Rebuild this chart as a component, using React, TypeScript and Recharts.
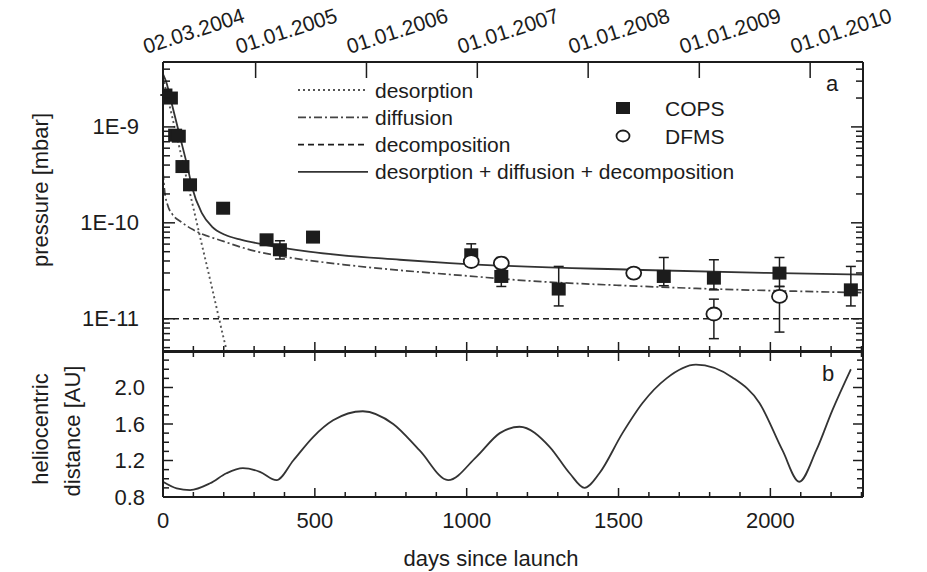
import React from "react";
import {
  ComposedChart,
  LineChart,
  Line,
  Scatter,
  XAxis,
  YAxis,
  ErrorBar,
  Legend,
  Label,
} from "recharts";

const W = 927;
const FONT = "'Liberation Sans', Arial, Helvetica, sans-serif";
const INK = "#1c1c1c";

// ---- model curves, panel a (days since launch -> pressure in mbar) ----
const desorptionDays = [0, 25, 50, 75, 100, 125, 150, 175, 200, 210];
const desorptionP = [3.3e-9, 1.5e-9, 6.9e-10, 3.15e-10, 1.43e-10, 6.5e-11, 3.0e-11, 1.36e-11, 6.2e-12, 4.6e-12];

const diffusionDays = [0, 5, 15, 30, 60, 100, 200, 300, 400, 600, 800, 1000, 1200, 1500, 1800, 2100, 2305];
const diffusionP = [
  3.4e-10, 2.2e-10, 1.54e-10, 1.24e-10, 1.02e-10, 8.45e-11, 6.4e-11, 5.1e-11, 4.43e-11,
  3.65e-11, 3.16e-11, 2.8e-11, 2.49e-11, 2.23e-11, 2.05e-11, 1.93e-11, 1.87e-11,
];

const decompositionDays = [0, 2305];
const decompositionP = [1e-11, 1e-11];

const totalDays = [0, 12, 23, 56, 83, 95, 128, 161, 204, 259, 336, 480, 780, 944, 1546, 1987, 2305];
const totalP = [
  3.56e-9, 2.85e-9, 2.07e-9, 7.9e-10, 3.56e-10, 2.39e-10, 1.26e-10, 9.15e-11, 7.5e-11,
  6.65e-11, 5.9e-11, 5.0e-11, 4.12e-11, 3.8e-11, 3.24e-11, 3.0e-11, 2.88e-11,
];

// ---- measurements ----
const copsDays = [8, 26, 40, 52, 64, 89, 198, 341, 385, 494, 1015, 1114, 1303, 1649, 1814, 2030, 2265];
const copsP = [
  2.15e-9, 2.0e-9, 8.2e-10, 8.0e-10, 3.86e-10, 2.49e-10, 1.42e-10, 6.65e-11, 5.24e-11,
  7.1e-11, 4.64e-11, 2.76e-11, 2.04e-11, 2.76e-11, 2.65e-11, 2.99e-11, 2.0e-11,
];
const copsLow = [null, null, null, null, null, null, null, null, 4.2e-11, null, 3.56e-11, 2.17e-11, 1.36e-11, 2.21e-11, 2.0e-11, 2.17e-11, 1.36e-11];
const copsHigh = [null, null, null, null, null, null, null, null, 6.5e-11, null, 6.04e-11, 3.51e-11, 3.51e-11, 4.35e-11, 4.12e-11, 4.35e-11, 3.51e-11];

const dfmsDays = [1015, 1550];
const dfmsP = [3.95e-11, 2.99e-11];
const dfmsBarDays = [1114, 1814, 2030];
const dfmsBarP = [3.8e-11, 1.12e-11, 1.71e-11];
const dfmsBarLow = [3.3e-11, 6.2e-12, 7.26e-12];
const dfmsBarHigh = [4.35e-11, 1.6e-11, 2.17e-11];

// ---- panel b: heliocentric distance [AU] ----
const helioDays = [
  0, 45, 89, 155, 209, 263, 319, 374, 429, 495, 560, 658, 758, 845, 939, 1032, 1109, 1174,
  1273, 1339, 1388, 1437, 1513, 1579, 1658, 1755, 1875, 1964, 2040, 2095, 2151, 2204, 2265,
];
const helioAU = [
  0.967, 0.895, 0.876, 0.95, 1.06, 1.116, 1.076, 0.985, 1.2, 1.46, 1.64, 1.74, 1.6, 1.31, 0.985,
  1.24, 1.5, 1.57, 1.35, 1.06, 0.9, 1.06, 1.5, 1.83, 2.1, 2.25, 2.11, 1.83, 1.31, 0.967, 1.31,
  1.75, 2.2,
];

// ---- axes ----
const dayDomain = [0, 2305];
const dayTicks = [0, 100, 200, 300, 400, 500, 600, 700, 800, 900, 1000, 1100, 1200, 1300, 1400, 1500, 1600, 1700, 1800, 1900, 2000, 2100, 2200, 2300];
const dayLabels = [0, 500, 1000, 1500, 2000];
const dateDays = [0, 305, 670, 1035, 1400, 1766, 2131];
const dateLabels = ["02.03.2004", "01.01.2005", "01.01.2006", "01.01.2007", "01.01.2008", "01.01.2009", "01.01.2010"];
const pDomain = [4.5e-12, 4.75e-9];
const pTicks = [
  5e-12, 6e-12, 7e-12, 8e-12, 9e-12,
  1e-11, 2e-11, 3e-11, 4e-11, 5e-11, 6e-11, 7e-11, 8e-11, 9e-11,
  1e-10, 2e-10, 3e-10, 4e-10, 5e-10, 6e-10, 7e-10, 8e-10, 9e-10,
  1e-9, 2e-9, 3e-9, 4e-9,
];
const auDomain = [0.8, 2.4];
const auTicks = [0.8, 0.9, 1.0, 1.1, 1.2, 1.3, 1.4, 1.5, 1.6, 1.7, 1.8, 1.9, 2.0, 2.1, 2.2, 2.3, 2.4];
const auLabels = [0.8, 1.2, 1.6, 2.0];
const auMajor = [0.8, 1.2, 1.6, 2.0, 2.4];

const series = (days: number[], vals: number[]) => days.map((d, i) => ({ day: d, p: vals[i] }));
const withErr = (days: number[], vals: number[], lo: (number | null)[], hi: (number | null)[]) =>
  days.map((d, i) => ({
    day: d,
    p: vals[i],
    err: lo[i] == null ? [0, 0] : [vals[i] - (lo[i] as number), (hi[i] as number) - vals[i]],
  }));

const copsData = withErr(copsDays, copsP, copsLow, copsHigh);
const dfmsData = series(dfmsDays, dfmsP);
const dfmsBarData = withErr(dfmsBarDays, dfmsBarP, dfmsBarLow, dfmsBarHigh);
const helioData = helioDays.map((d, i) => ({ day: d, au: helioAU[i] }));

const textStyle = { fontFamily: FONT, fill: INK };

const isDecade = (v: number) => {
  const e = Math.floor(Math.log10(v) + 1e-9);
  return Math.abs(v / Math.pow(10, e) - 1) < 1e-6;
};
const inList = (list: number[], v: number) => list.some((t) => Math.abs(t - v) < 1e-6);

// ticks are custom so the marks point inward like the original
const LogTickLeft = ({ x, y, payload }: any) => {
  const major = isDecade(payload.value);
  return (
    <g>
      <line x1={x} y1={y} x2={x + (major ? 12 : 7)} y2={y} stroke={INK} strokeWidth={1.5} />
      {major && (
        <text x={x - 24} y={y} textAnchor="end" dominantBaseline="central" fontSize={22} style={textStyle}>
          {"1E" + Math.round(Math.log10(payload.value))}
        </text>
      )}
    </g>
  );
};
const LogTickRight = ({ x, y, payload }: any) => {
  const major = isDecade(payload.value);
  return <line x1={x} y1={y} x2={x - (major ? 12 : 7)} y2={y} stroke={INK} strokeWidth={1.5} />;
};
const DayTickUp = ({ x, y, payload }: any) => {
  const major = dayLabels.includes(payload.value);
  return <line x1={x} y1={y} x2={x} y2={y - (major ? 10 : 6)} stroke={INK} strokeWidth={1.5} />;
};
const DayTickDown = ({ x, y, payload }: any) => {
  const major = dayLabels.includes(payload.value);
  return <line x1={x} y1={y} x2={x} y2={y + (major ? 10 : 6)} stroke={INK} strokeWidth={1.5} />;
};
const DayTickBottom = ({ x, y, payload }: any) => {
  const major = dayLabels.includes(payload.value);
  return (
    <g>
      <line x1={x} y1={y} x2={x} y2={y - (major ? 9 : 5)} stroke={INK} strokeWidth={1.5} />
      {major && (
        <text x={x} y={y + 23} textAnchor="middle" dominantBaseline="central" fontSize={22} style={textStyle}>
          {payload.value}
        </text>
      )}
    </g>
  );
};
const DateTick = ({ x, y, payload }: any) => {
  const i = dateDays.indexOf(payload.value);
  const tx = x - 17;
  const ty = y - 8;
  return (
    <g>
      {i > 0 && <line x1={x} y1={y} x2={x} y2={y + 16} stroke={INK} strokeWidth={1.5} />}
      <text x={tx} y={ty} transform={`rotate(-18, ${tx}, ${ty})`} fontSize={21} style={textStyle}>
        {dateLabels[i]}
      </text>
    </g>
  );
};
const AuTickLeft = ({ x, y, payload }: any) => {
  const major = inList(auMajor, payload.value);
  return (
    <g>
      <line x1={x} y1={y} x2={x + (major ? 10 : 6)} y2={y} stroke={INK} strokeWidth={1.5} />
      {inList(auLabels, payload.value) && (
        <text x={x - 18} y={y} textAnchor="end" dominantBaseline="central" fontSize={22} style={textStyle}>
          {payload.value.toFixed(1)}
        </text>
      )}
    </g>
  );
};
const AuTickRight = ({ x, y, payload }: any) => {
  const major = inList(auMajor, payload.value);
  return <line x1={x} y1={y} x2={x - (major ? 10 : 6)} y2={y} stroke={INK} strokeWidth={1.5} />;
};

const Square = (props: any) => {
  const { cx, cy } = props;
  if (cx == null || cy == null) return null;
  return <rect x={cx - 7} y={cy - 6.5} width={14} height={13} fill={INK} />;
};
const Ring = (props: any) => {
  const { cx, cy } = props;
  if (cx == null || cy == null) return null;
  return <ellipse cx={cx} cy={cy} rx={7.5} ry={6.5} fill="#fff" stroke={INK} strokeWidth={1.8} />;
};

const lineStyles = [
  { name: "desorption", stroke: "#555", dash: "2 3", width: 1.9 },
  { name: "diffusion", stroke: "#444", dash: "8 3 2 3", width: 1.7 },
  { name: "decomposition", stroke: INK, dash: "6 4", width: 1.7 },
  { name: "desorption + diffusion + decomposition", stroke: "#333", dash: undefined, width: 1.8 },
];

const TopLegend = () => (
  <svg width={W} height={360} style={{ position: "absolute", left: 0, top: 0, pointerEvents: "none" }}>
    {lineStyles.map((s, i) => {
      const y = 90 + i * 27.3;
      return (
        <g key={s.name}>
          <line x1={298} y1={y} x2={368} y2={y} stroke={s.stroke} strokeWidth={s.width} strokeDasharray={s.dash} />
          <text x={375} y={y} dominantBaseline="central" fontSize={21} style={textStyle}>
            {s.name}
          </text>
        </g>
      );
    })}
    <rect x={616} y={102} width={14} height={12} fill={INK} />
    <text x={665} y={108} dominantBaseline="central" fontSize={21} style={textStyle}>COPS</text>
    <ellipse cx={623} cy={136} rx={6.5} ry={5.5} fill="#fff" stroke={INK} strokeWidth={1.8} />
    <text x={665} y={136} dominantBaseline="central" fontSize={21} style={textStyle}>DFMS</text>
    <text x={832} y={83} textAnchor="middle" dominantBaseline="central" fontSize={22} style={textStyle}>a</text>
  </svg>
);

const BottomLegend = () => (
  <svg width={W} height={232} style={{ position: "absolute", left: 0, top: 0, pointerEvents: "none" }}>
    <text x={828} y={33} textAnchor="middle" dominantBaseline="central" fontSize={22} style={textStyle}>b</text>
  </svg>
);

const axisLine = { stroke: INK, strokeWidth: 2 };

export default function App() {
  return (
    <div style={{ position: "absolute", left: 0, top: 0, width: W, height: 572, background: "#fff", fontFamily: FONT }}>
      <div style={{ position: "absolute", left: 0, top: 0 }}>
        <ComposedChart width={W} height={360} margin={{ top: 61, right: 63, bottom: 7, left: 162 }}>
          <XAxis xAxisId="b" orientation="bottom" dataKey="day" type="number" domain={dayDomain} allowDataOverflow
            ticks={dayTicks} interval={0} height={1} tickSize={0} tickMargin={0} tickLine={false} axisLine={axisLine} tick={<DayTickUp />} />
          <XAxis xAxisId="t" orientation="top" dataKey="day" type="number" domain={dayDomain} allowDataOverflow
            ticks={dateDays} interval={0} height={1} tickSize={0} tickMargin={0} tickLine={false} axisLine={axisLine} tick={<DateTick />} />
          <YAxis yAxisId="l" orientation="left" type="number" scale="log" domain={pDomain} allowDataOverflow
            ticks={pTicks} interval={0} width={1} tickSize={0} tickMargin={0} tickLine={false} axisLine={axisLine} tick={<LogTickLeft />}>
            <Label
              content={() => (
                <text x={40} y={190} transform="rotate(-90, 40, 190)" textAnchor="middle" dominantBaseline="central" fontSize={22} style={textStyle}>
                  pressure [mbar]
                </text>
              )}
            />
          </YAxis>
          <YAxis yAxisId="r" orientation="right" type="number" scale="log" domain={pDomain} allowDataOverflow
            ticks={pTicks} interval={0} width={1} tickSize={0} tickMargin={0} tickLine={false} axisLine={axisLine} tick={<LogTickRight />} />
          <Legend verticalAlign="middle" layout="horizontal" content={() => <TopLegend />}
            wrapperStyle={{ position: "absolute", left: 0, top: 0, width: W, height: 360, margin: 0 }} />
          <Line xAxisId="b" yAxisId="l" data={series(decompositionDays, decompositionP)} dataKey="p" type="linear"
            stroke={INK} strokeWidth={1.7} strokeDasharray="6 4" dot={false} isAnimationActive={false} />
          <Line xAxisId="b" yAxisId="l" data={series(desorptionDays, desorptionP)} dataKey="p" type="monotone"
            stroke="#555" strokeWidth={1.9} strokeDasharray="2 3" dot={false} isAnimationActive={false} />
          <Line xAxisId="b" yAxisId="l" data={series(diffusionDays, diffusionP)} dataKey="p" type="monotone"
            stroke="#444" strokeWidth={1.7} strokeDasharray="8 3 2 3" dot={false} isAnimationActive={false} />
          <Line xAxisId="b" yAxisId="l" data={series(totalDays, totalP)} dataKey="p" type="monotone"
            stroke="#333" strokeWidth={1.8} dot={false} isAnimationActive={false} />
          <Scatter xAxisId="b" yAxisId="l" data={copsData} dataKey="p" shape={<Square />} isAnimationActive={false}>
            <ErrorBar dataKey="err" direction="y" width={5} stroke={INK} strokeWidth={1.5} />
          </Scatter>
          <Scatter xAxisId="b" yAxisId="l" data={dfmsBarData} dataKey="p" shape={<Ring />} isAnimationActive={false}>
            <ErrorBar dataKey="err" direction="y" width={5} stroke={INK} strokeWidth={1.5} />
          </Scatter>
          <Scatter xAxisId="b" yAxisId="l" data={dfmsData} dataKey="p" shape={<Ring />} isAnimationActive={false} />
        </ComposedChart>
      </div>
      <div style={{ position: "absolute", left: 0, top: 340 }}>
        <LineChart width={W} height={232} data={helioData} margin={{ top: 10, right: 63, bottom: 74, left: 162 }}>
          <XAxis xAxisId="b" orientation="bottom" dataKey="day" type="number" domain={dayDomain} allowDataOverflow
            ticks={dayTicks} interval={0} height={1} tickSize={0} tickMargin={0} tickLine={false} axisLine={axisLine} tick={<DayTickBottom />}>
            <Label
              content={() => (
                <text x={491} y={218} textAnchor="middle" dominantBaseline="central" fontSize={22} style={textStyle}>
                  days since launch
                </text>
              )}
            />
          </XAxis>
          <XAxis xAxisId="t" orientation="top" dataKey="day" type="number" domain={dayDomain} allowDataOverflow
            ticks={dayTicks} interval={0} height={1} tickSize={0} tickMargin={0} tickLine={false} axisLine={axisLine} tick={<DayTickDown />} />
          <YAxis yAxisId="l" orientation="left" type="number" domain={auDomain} allowDataOverflow
            ticks={auTicks} interval={0} width={1} tickSize={0} tickMargin={0} tickLine={false} axisLine={axisLine} tick={<AuTickLeft />}>
            <Label
              content={() => (
                <g>
                  <text x={40} y={89} transform="rotate(-90, 40, 89)" textAnchor="middle" dominantBaseline="central" fontSize={22} style={textStyle}>
                    heliocentric
                  </text>
                  <text x={72} y={91} transform="rotate(-90, 72, 91)" textAnchor="middle" dominantBaseline="central" fontSize={22} style={textStyle}>
                    distance [AU]
                  </text>
                </g>
              )}
            />
          </YAxis>
          <YAxis yAxisId="r" orientation="right" type="number" domain={auDomain} allowDataOverflow
            ticks={auTicks} interval={0} width={1} tickSize={0} tickMargin={0} tickLine={false} axisLine={axisLine} tick={<AuTickRight />} />
          <Legend verticalAlign="middle" layout="horizontal" content={() => <BottomLegend />}
            wrapperStyle={{ position: "absolute", left: 0, top: 0, width: W, height: 232, margin: 0 }} />
          <Line xAxisId="b" yAxisId="l" dataKey="au" type="monotone" stroke="#333" strokeWidth={1.8} dot={false} isAnimationActive={false} />
        </LineChart>
      </div>
    </div>
  );
}
